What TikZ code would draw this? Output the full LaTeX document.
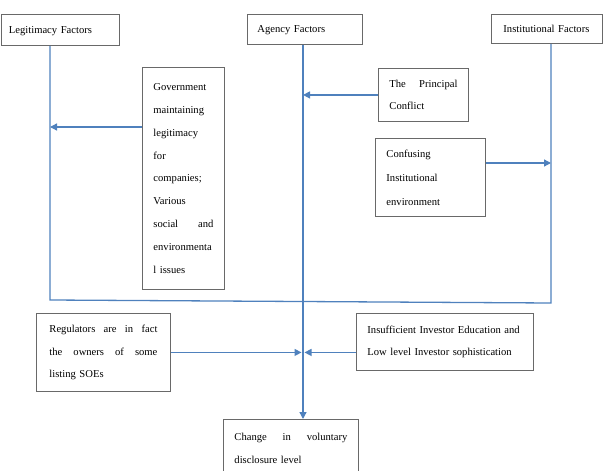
\documentclass[tikz,border=0pt]{standalone}
\usepackage{fontspec}
\setmainfont{Liberation Serif}
\usetikzlibrary{arrows.meta}
\definecolor{connc}{RGB}{79,129,189}
\definecolor{bord}{RGB}{105,105,105}
\begin{document}
\begin{tikzpicture}[x=1pt,y=-1pt,
  box/.style={draw=bord, line width=0.9pt, inner ysep=0pt, align=left,
    font=\fontsize{10.6}{22.8}\selectfont},
  head/.style={draw=bord, line width=0.9pt, inner ysep=0pt, align=left, text depth=0pt,
    font=\fontsize{10.6}{12}\selectfont},
  conn/.style={draw=connc, line width=1.3pt},
  arr/.style={conn, -{Triangle[length=7pt,width=7pt]}}]
\useasboundingbox (0,0) rectangle (603,471);

% header boxes
\node[head, anchor=north west, text width=102pt, inner xsep=8pt, minimum height=31pt] (leg) at (0.5,14) {Legitimacy Factors};
\node[head, anchor=north west, text width=95pt, inner xsep=10pt, minimum height=30pt] (ag) at (247,14) {Agency Factors};
\node[head, anchor=north west, text width=87pt, inner xsep=12pt, minimum height=29pt] (inst) at (491,14) {Institutional Factors};

% factor boxes
\node[box, anchor=north west, text width=60pt, inner xsep=11pt, minimum height=222pt] (gov) at (142,67)
  {Government\\maintaining\\legitimacy\\for\\companies;\\Various\\social\hfill and\\environmenta\\l issues};
\node[box, anchor=north west, text width=68pt, inner xsep=11pt, minimum height=53pt] (pr) at (378,68)
  {The\hfill Principal\\Conflict};
\node[box, anchor=north west, text width=88pt, inner xsep=11pt, minimum height=78pt,
  font=\fontsize{10.6}{24}\selectfont] (conf) at (375,138)
  {Confusing\\Institutional\\environment};
\node[box, anchor=north west, text width=108pt, inner xsep=13pt, minimum height=78pt] (reg) at (36,313)
  {Regulators\hfill are\hfill in\hfill fact\\the\hfill owners\hfill of\hfill some\\listing SOEs};
\node[box, anchor=north west, text width=155pt, inner xsep=11pt, minimum height=57pt] (ins) at (356,313)
  {Insufficient Investor Education and\\Low level Investor sophistication};
\node[box, anchor=north west, text width=113pt, inner xsep=11pt, minimum height=58pt] (chg) at (223,419)
  {Change\hfill in\hfill voluntary\\disclosure level};

% helper coordinates
\coordinate (lb) at (50,300);
\coordinate (ib) at (551,303);
\coordinate (ax) at (303,44);
\coordinate (ga) at (50,127);
\coordinate (ca) at (551,163);

% frame lines
\draw[conn] (leg.south -| lb) -- (lb) -- (ib) -- (inst.south -| ib);
% agency trunk
\draw[arr] (ag.south -| ax) -- (chg.north -| ax);

% arrows
\draw[arr] (gov.west |- ga) -- (ga);
\draw[arr] (pr.west) -- (pr.west -| ax);
\draw[arr] (conf.east |- ca) -- (ca);
\draw[arr] (reg.east) -- ([xshift=-1.5pt]reg.east -| ax);
\draw[arr] (ins.west |- reg.east) -- ([xshift=1.5pt]reg.east -| ax);
\end{tikzpicture}
\end{document}
